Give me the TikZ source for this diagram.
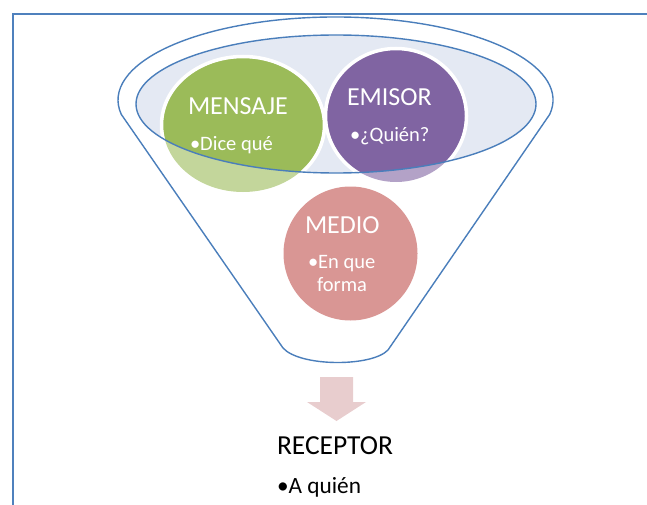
\documentclass[tikz,border=0pt]{standalone}
\usepackage{fontspec}
\setmainfont{Carlito}
\definecolor{fblue}{HTML}{4A7EBB}
\definecolor{frameblue}{HTML}{4F81BD}
\definecolor{topfill}{RGB}{228,233,243}
\definecolor{greenfull}{HTML}{9BBB59}
\definecolor{greenlight}{HTML}{C3D69B}
\definecolor{purplefull}{HTML}{8064A2}
\definecolor{purplelight}{HTML}{B3A2C7}
\definecolor{medio}{HTML}{D99694}
\definecolor{arrowpink}{RGB}{232,205,206}
\begin{document}
\begin{tikzpicture}[x=1pt,y=-1pt,
  txt/.style={inner sep=0pt, outer sep=0pt, anchor=base west, text=white},
  big/.style={font=\fontsize{26}{31}\selectfont},
  small/.style={font=\fontsize{20.5}{24}\selectfont},
  ring/.style={draw=white, line width=3.5pt},
  funnel/.style={draw=fblue, line width=1.4pt}]
\useasboundingbox (0,0) rectangle (647,505);
% frame
\draw[frameblue, line width=2pt] (12.7,510) -- (12.7,14.3) -- (650,14.3);
% inner ellipse fill
\fill[topfill] (336,104) ellipse [x radius=200, y radius=69];
% circles, light parts
\fill[greenlight] (243,125) ellipse [x radius=80, y radius=67];
\fill[purplelight] (396,116) ellipse [x radius=69, y radius=66];
% circles, full colour inside the top ellipse
\begin{scope}
  \clip (336,104) ellipse [x radius=200, y radius=69];
  \fill[greenfull] (243,125) ellipse [x radius=80, y radius=67];
  \draw[ring] (243,125) ellipse [x radius=81.5, y radius=68.5];
  \fill[purplefull] (396,116) ellipse [x radius=69, y radius=66];
  \draw[ring] (396,116) ellipse [x radius=70.5, y radius=67.5];
\end{scope}
% inner ellipse outline
\draw[funnel] (336,104) ellipse [x radius=200, y radius=69];
% outer funnel
\draw[funnel, line join=round] (549.7,114.4) arc[start angle=10, end angle=-190, x radius=217.5, y radius=83]
  -- (283,348) .. controls (300,367) and (372,367) .. (388,350) -- cycle;
% medio circle
\fill[medio] (350.5,253.5) circle [radius=67];
% arrow
\fill[arrowpink] (320,377) -- (353,377) -- (353,402) -- (366,402) -- (336.5,421)
  -- (307,402) -- (320,402) -- cycle;
% texts
\node[txt, big] (mensaje) at (188,115) {MENSAJE};
\node[txt, small] (dice) at (190,150) {•Dice qué};
\node[txt, big] (emisor) at (347,106) {EMISOR};
\node[txt, small] (quien) at (350,142) {•¿Quién?};
\node[txt, big] (medio) at (305,233) {MEDIO};
\node[txt, small] (enque) at (308,268) {•En que};
\node[txt, small] (forma) at (317,291) {forma};
\node[txt, text=black, font=\fontsize{27.5}{32}\selectfont] (receptor) at (277,454) {RECEPTOR};
\node[txt, text=black, font=\fontsize{23.3}{28}\selectfont] (aquien) at (277,493) {•A quién};
\end{tikzpicture}
\end{document}
